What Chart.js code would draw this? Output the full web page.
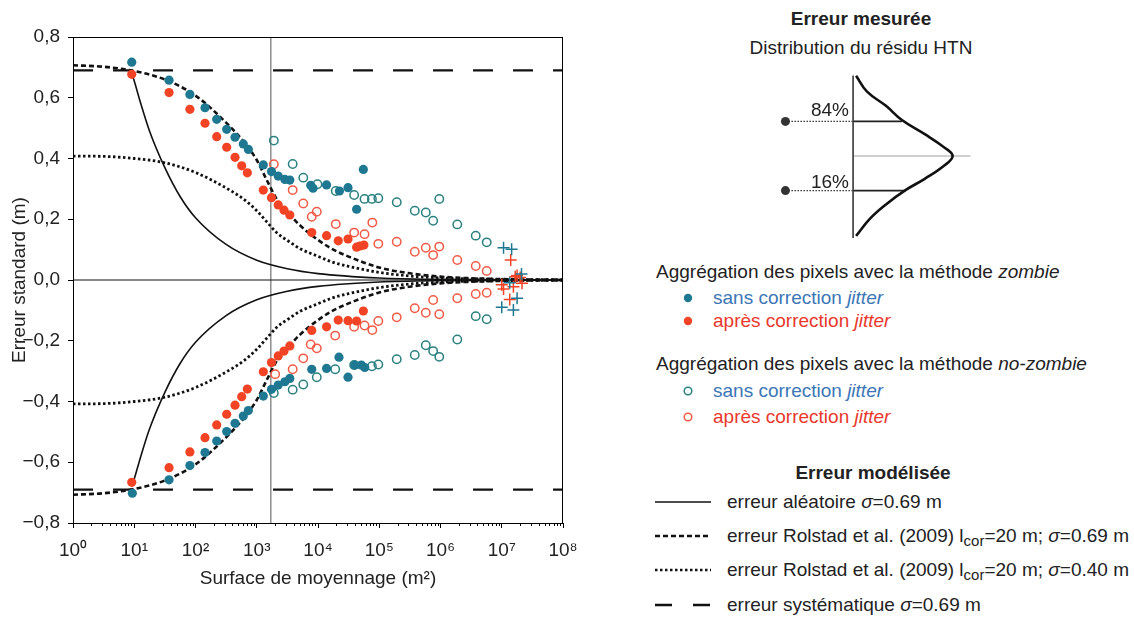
<!DOCTYPE html>
<html>
<head>
<meta charset="utf-8">
<script src="https://cdn.jsdelivr.net/npm/chart.js@4.4.0/dist/chart.umd.min.js"></script>
<style>
  body { margin: 0; background: #fff; font-family: "Liberation Sans", Arial, sans-serif; color: #222; }
  #page { position: relative; width: 1134px; height: 619px; overflow: hidden; }
  #main { position: absolute; left: 0; top: 0; }
  #inset { position: absolute; left: 769px; top: 65px; }
  .t { position: absolute; font-size: 19px; line-height: 24px; height: 24px; white-space: nowrap; }
  .b { font-weight: bold; }
  .c { transform: translateX(-50%); }
  .r { transform: translateX(-100%); }
  .blue { color: #3b76b6; }
  .red { color: #e8382b; }
  sub { font-size: 15px; vertical-align: -4px; line-height: 0; }
  #handles { position: absolute; left: 0; top: 0; }
</style>
</head>
<body>
<div id="page">
  <canvas id="main" width="600" height="619"></canvas>
  <canvas id="inset" width="213" height="182"></canvas>

  <div class="t b c" style="left:861px; top:7px">Erreur mesurée</div>
  <div class="t c" style="left:861px; top:36px">Distribution du résidu HTN</div>
  <div class="t r" style="left:849px; top:98px">84%</div>
  <div class="t r" style="left:849px; top:170px">16%</div>

  <div class="t" style="left:656px; top:260px">Aggrégation des pixels avec la méthode <i>zombie</i></div>
  <div class="t blue" style="left:713px; top:286px">sans correction <i>jitter</i></div>
  <div class="t red" style="left:713px; top:309px">après correction <i>jitter</i></div>
  <div class="t" style="left:656px; top:352px">Aggrégation des pixels avec la méthode <i>no-zombie</i></div>
  <div class="t blue" style="left:713px; top:379px">sans correction <i>jitter</i></div>
  <div class="t red" style="left:713px; top:405px">après correction <i>jitter</i></div>

  <div class="t b c" style="left:873px; top:461px">Erreur modélisée</div>
  <div class="t" style="left:727px; top:490px">erreur aléatoire <i>σ</i>=0.69 m</div>
  <div class="t" style="left:727px; top:524px">erreur Rolstad et al. (2009) l<sub>cor</sub>=20 m; <i>σ</i>=0.69 m</div>
  <div class="t" style="left:727px; top:558px">erreur Rolstad et al. (2009) l<sub>cor</sub>=20 m; <i>σ</i>=0.40 m</div>
  <div class="t" style="left:727px; top:593px">erreur systématique <i>σ</i>=0.69 m</div>

  <svg id="handles" width="1134" height="619">
    <circle cx="688" cy="298" r="4.2" fill="#1e7891"/>
    <circle cx="688" cy="321" r="4.2" fill="#f24424"/>
    <circle cx="688" cy="391" r="3.8" fill="none" stroke="#2a8080" stroke-width="1.5"/>
    <circle cx="688" cy="417" r="3.8" fill="none" stroke="#f25a46" stroke-width="1.5"/>
    <line x1="655" y1="502" x2="711" y2="502" stroke="#111" stroke-width="1.5"/>
    <line x1="655" y1="536" x2="711" y2="536" stroke="#111" stroke-width="2.6" stroke-dasharray="5 3"/>
    <line x1="655" y1="570" x2="711" y2="570" stroke="#111" stroke-width="2.6" stroke-dasharray="2.5 2.5"/>
    <line x1="655" y1="605" x2="711" y2="605" stroke="#111" stroke-width="2.4" stroke-dasharray="17 21"/>
  </svg>
</div>

<script>
// modelled error curves: area (m²) and upper half of the envelope (m)
const curveArea = [1, 3.16, 10, 31.6, 100, 316, 631, 1000, 1450, 2140, 3470, 5010, 10000, 17800, 31600, 1e5, 3.16e5, 1e6, 1e7, 1e8];
const rolstad069 = [0.707, 0.702, 0.688, 0.660, 0.607, 0.518, 0.452, 0.395, 0.330, 0.265, 0.215, 0.181, 0.132, 0.100, 0.077, 0.041, 0.022, 0.011, 0.003, 0.001];
const rolstad040 = [0.408, 0.407, 0.400, 0.386, 0.354, 0.303, 0.264, 0.228, 0.192, 0.155, 0.125, 0.104, 0.078, 0.058, 0.045, 0.025, 0.013, 0.007, 0.002, 0.001];
const randArea = [9.1, 10, 12.6, 17.8, 31.6, 56, 100, 316, 1000, 3160, 10000, 1e5, 1e6, 1e8];
const randErr = [0.68, 0.655, 0.585, 0.49, 0.37, 0.275, 0.205, 0.117, 0.065, 0.037, 0.021, 0.0066, 0.0021, 0.0002];
const sysErr = 0.69;
const refArea = 1700;

// zombie, sans correction jitter (filled blue)
const zbBlueHiArea = [9.1, 37, 81, 143, 222, 323, 442, 603, 730, 1280, 1740, 2240, 2880, 3470, 7600, 8300, 13800, 22400, 30900, 42700, 55000];
const zbBlueHi = [0.717, 0.658, 0.611, 0.567, 0.529, 0.496, 0.470, 0.448, 0.430, 0.379, 0.357, 0.342, 0.331, 0.329, 0.312, 0.302, 0.313, 0.293, 0.304, 0.233, 0.364];
const zbBlueLoArea = [9.3, 37, 81, 143, 222, 323, 442, 603, 730, 1280, 1740, 2240, 2880, 3470, 7900, 13800, 22000, 30900, 40000, 51000, 58000];
const zbBlueLo = [-0.702, -0.658, -0.611, -0.568, -0.530, -0.499, -0.472, -0.448, -0.430, -0.382, -0.360, -0.346, -0.335, -0.324, -0.294, -0.291, -0.254, -0.320, -0.280, -0.280, -0.288];

// zombie, après correction jitter (filled red)
const zbRedHiArea = [9.1, 37, 81, 143, 222, 323, 442, 568, 702, 1280, 1740, 2240, 2790, 3470, 7900, 13800, 21400, 30900, 42700, 48400, 56200];
const zbRedHi = [0.677, 0.617, 0.562, 0.516, 0.472, 0.437, 0.404, 0.376, 0.353, 0.296, 0.271, 0.247, 0.230, 0.214, 0.156, 0.146, 0.129, 0.135, 0.108, 0.112, 0.115];
const zbRedLoArea = [9.1, 37, 81, 143, 222, 323, 442, 568, 702, 1280, 1740, 2240, 2790, 3470, 7900, 13800, 21400, 30900, 42700, 55000];
const zbRedLo = [-0.666, -0.618, -0.566, -0.519, -0.477, -0.442, -0.412, -0.384, -0.359, -0.302, -0.272, -0.250, -0.234, -0.217, -0.166, -0.154, -0.132, -0.134, -0.135, -0.102];

// no-zombie, sans correction jitter (open blue)
const nzBlueHiArea = [1900, 3860, 5750, 9800, 19500, 38900, 57500, 75900, 96600, 193000, 380000, 575000, 759000, 955000, 1880000, 3760000, 5680000];
const nzBlueHi = [0.459, 0.382, 0.337, 0.315, 0.293, 0.280, 0.267, 0.267, 0.269, 0.256, 0.228, 0.222, 0.195, 0.267, 0.183, 0.146, 0.124];
const nzBlueLoArea = [1900, 3860, 5750, 9550, 19100, 38900, 75900, 96600, 193000, 380000, 575000, 759000, 955000, 1880000, 3760000, 5680000];
const nzBlueLo = [-0.372, -0.361, -0.344, -0.320, -0.294, -0.280, -0.284, -0.278, -0.261, -0.247, -0.215, -0.234, -0.253, -0.196, -0.119, -0.129];

// no-zombie, après correction jitter (open red)
const nzRedHiArea = [1900, 3860, 5750, 7900, 9550, 19500, 38900, 57500, 77100, 96600, 193000, 380000, 575000, 759000, 955000, 1880000, 3760000, 5680000];
const nzRedHi = [0.381, 0.296, 0.252, 0.208, 0.225, 0.184, 0.156, 0.151, 0.189, 0.119, 0.126, 0.093, 0.106, 0.082, 0.110, 0.066, 0.046, 0.030];
const nzRedLoArea = [2000, 3860, 5750, 7600, 9550, 19100, 38900, 57500, 77100, 96600, 193000, 380000, 575000, 759000, 955000, 1880000, 3760000, 5680000];
const nzRedLo = [-0.310, -0.294, -0.258, -0.212, -0.225, -0.183, -0.154, -0.150, -0.165, -0.135, -0.123, -0.093, -0.108, -0.066, -0.113, -0.060, -0.046, -0.042];

// largest areas (crosses)
const crossBlueArea = [1.07e7, 1.45e7, 2.1e7, 1.0e7, 1.55e7, 1.78e7, 1.35e7];
const crossBlue = [0.106, 0.101, 0.020, -0.090, -0.099, -0.060, -0.009];
const crossRedArea = [1.4e7, 1.66e7, 1.78e7, 2.0e7, 1.0e7, 1.07e7, 1.35e7, 1.55e7, 2.14e7];
const crossRed = [0.066, 0.011, 0.015, 0.008, -0.016, -0.030, -0.064, -0.022, -0.011];

const xTicks = [1, 10, 100, 1e3, 1e4, 1e5, 1e6, 1e7, 1e8];
const supDigits = ['⁰','¹','²','³','⁴','⁵','⁶','⁷','⁸'];

// distribution sketch: residual (in σ) and relative density
const insetZ = [2.32, 1.86, 1.45, 1.04, 0.63, 0.26, 0, -0.29, -0.66, -0.98, -1.40, -1.81, -2.31];
const insetDens = [0.03, 0.14, 0.33, 0.49, 0.72, 0.91, 1.0, 0.91, 0.72, 0.53, 0.33, 0.17, 0.03];
const q84 = 1, q16 = -1;

const BLUE = '#1e7891', RED = '#f24424', BLUE_O = '#2a8080', RED_O = '#f25a46';
const FONT = '"Liberation Sans", Arial, sans-serif';

const pts = (xs, ys, sign = 1) => xs.map((x, i) => ({x: x, y: sign * ys[i]}));

function curve(data, dash, width) {
  return {
    type: 'line', data: data, borderColor: '#111', borderWidth: width, borderDash: dash,
    pointRadius: 0, fill: false, cubicInterpolationMode: 'monotone', order: 5
  };
}
function dots(data, color, open) {
  return {
    type: 'scatter', data: data, pointStyle: 'circle',
    pointRadius: open ? 4.2 : 4.6,
    backgroundColor: open ? 'rgba(255,255,255,0)' : color,
    borderColor: color, borderWidth: open ? 1.5 : 0, order: 1
  };
}
function crosses(data, color) {
  return {
    type: 'scatter', data: data, pointStyle: 'cross', pointRadius: 6,
    borderColor: color, borderWidth: 1.5, order: 1
  };
}

const frame = {
  id: 'frame',
  afterDraw(chart) {
    const {ctx, chartArea: a, scales} = chart;
    ctx.save();
    ctx.strokeStyle = '#000';
    ctx.lineWidth = 1;
    ctx.strokeRect(a.left + 0.5, a.top + 0.5, a.right - a.left - 1, a.bottom - a.top);
    // minor ticks of the log axis
    ctx.beginPath();
    for (let e = 0; e < 8; e++) {
      for (let k = 2; k <= 9; k++) {
        const px = Math.round(scales.x.getPixelForValue(k * Math.pow(10, e))) + 0.5;
        ctx.moveTo(px, a.bottom);
        ctx.lineTo(px, a.bottom + 3);
      }
    }
    ctx.stroke();
    ctx.restore();
  }
};

new Chart(document.getElementById('main'), {
  type: 'scatter',
  data: {
    datasets: [
      dots(pts(zbBlueHiArea, zbBlueHi), BLUE, false),
      dots(pts(zbBlueLoArea, zbBlueLo), BLUE, false),
      dots(pts(zbRedHiArea, zbRedHi), RED, false),
      dots(pts(zbRedLoArea, zbRedLo), RED, false),
      dots(pts(nzBlueHiArea, nzBlueHi), BLUE_O, true),
      dots(pts(nzBlueLoArea, nzBlueLo), BLUE_O, true),
      dots(pts(nzRedHiArea, nzRedHi), RED_O, true),
      dots(pts(nzRedLoArea, nzRedLo), RED_O, true),
      crosses(pts(crossBlueArea, crossBlue), BLUE),
      crosses(pts(crossRedArea, crossRed), RED),
      curve(pts(randArea, randErr), [], 1.6),
      curve(pts(randArea, randErr, -1), [], 1.6),
      curve(pts(curveArea, rolstad069), [5, 3], 2.6),
      curve(pts(curveArea, rolstad069, -1), [5, 3], 2.6),
      curve(pts(curveArea, rolstad040), [2.5, 2.5], 2.8),
      curve(pts(curveArea, rolstad040, -1), [2.5, 2.5], 2.8),
      curve([{x: 1, y: sysErr}, {x: 1e8, y: sysErr}], [20, 20], 2.4),
      curve([{x: 1, y: -sysErr}, {x: 1e8, y: -sysErr}], [20, 20], 2.4),
      curve([{x: 1, y: 0}, {x: 1e8, y: 0}], [], 1),
      {type: 'line', data: [{x: refArea, y: -0.8}, {x: refArea, y: 0.8}], borderColor: '#555',
       borderWidth: 1, pointRadius: 0, order: 6}
    ]
  },
  options: {
    responsive: false,
    animation: false,
    devicePixelRatio: 1,
    layout: {padding: {top: 37, right: 37, bottom: 20, left: 0}},
    plugins: {legend: {display: false}, tooltip: {enabled: false}},
    scales: {
      x: {
        type: 'logarithmic', min: 1, max: 1e8,
        afterFit: s => { s.height = 76; },
        afterBuildTicks: s => { s.ticks = xTicks.map(v => ({value: v})); },
        grid: {drawOnChartArea: false, tickLength: 5, color: '#000'},
        border: {color: '#000'},
        ticks: {
          autoSkip: false, maxRotation: 0, padding: 11, color: '#222',
          font: {family: FONT, size: 19},
          callback: v => '10' + supDigits[Math.round(Math.log10(v))]
        },
        title: {display: true, text: 'Surface de moyennage (m²)', color: '#222',
                font: {family: FONT, size: 19}, padding: {top: 0, bottom: 9}}
      },
      y: {
        min: -0.8, max: 0.8,
        afterFit: s => { s.width = 73; },
        grid: {drawOnChartArea: false, tickLength: 5, color: '#000'},
        border: {color: '#000'},
        ticks: {
          stepSize: 0.2, padding: 8, color: '#222',
          font: {family: FONT, size: 19},
          callback: v => v.toFixed(1).replace('.', ',').replace('-', '−')
        },
        title: {display: true, text: 'Erreur standard (m)', color: '#222',
                font: {family: FONT, size: 19}, padding: {top: 8, bottom: 0}}
      }
    }
  },
  plugins: [frame]
});

// distribution sketch
function seg(data, width, color, dash) {
  return {type: 'line', data: data, borderColor: color, borderWidth: width, borderDash: dash || [],
          pointRadius: 0, fill: false};
}
new Chart(document.getElementById('inset'), {
  type: 'scatter',
  data: {
    datasets: [
      {type: 'line', data: pts(insetDens, insetZ), borderColor: '#111', borderWidth: 2.6,
       pointRadius: 0, tension: 0.4, fill: false},
      seg([{x: 0, y: 2.32}, {x: 0, y: -2.37}], 1, '#444'),
      seg([{x: 0, y: 0}, {x: 1.18, y: 0}], 0.8, '#888'),
      seg([{x: 0, y: q84}, {x: 0.49, y: q84}], 1.6, '#222'),
      seg([{x: 0, y: q16}, {x: 0.53, y: q16}], 1.6, '#222'),
      seg([{x: -0.68, y: q84}, {x: 0, y: q84}], 1.2, '#333', [1.5, 1.5]),
      seg([{x: -0.68, y: q16}, {x: 0, y: q16}], 1.2, '#333', [1.5, 1.5]),
      {type: 'scatter', data: [{x: -0.68, y: q84}, {x: -0.68, y: q16}], pointRadius: 4.5,
       backgroundColor: '#333', borderWidth: 0}
    ]
  },
  options: {
    responsive: false, animation: false, devicePixelRatio: 1,
    layout: {padding: 0},
    plugins: {legend: {display: false}, tooltip: {enabled: false}},
    scales: {
      x: {type: 'linear', min: -0.8, max: 1.25, display: false},
      y: {type: 'linear', min: -2.5, max: 2.5, display: false}
    }
  }
});
</script>
</body>
</html>
